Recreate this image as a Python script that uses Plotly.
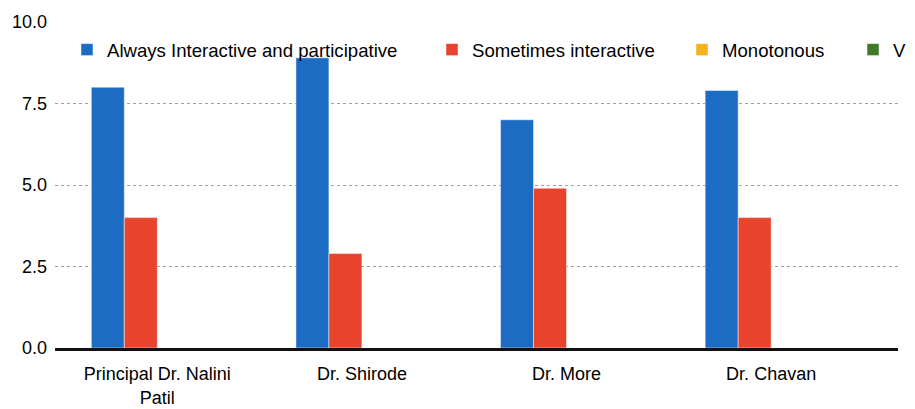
import plotly.graph_objects as go

categories = ["Principal Dr. Nalini<br>Patil", "Dr. Shirode", "Dr. More", "Dr. Chavan"]
series_names = ["Always Interactive and participative", "Sometimes interactive", "Monotonous", "V"]
always_interactive = [8.0, 8.9, 7.0, 7.9]
sometimes_interactive = [4.0, 2.9, 4.9, 4.0]
monotonous = [0, 0, 0, 0]
very_boring = [0, 0, 0, 0]
y_ticks = [0, 2.5, 5.0, 7.5, 10.0]

colors = ["#1c6cc4", "#e8432d", "#f5b21f", "#3e7b27"]
values = [always_interactive, sometimes_interactive, monotonous, very_boring]
legend_ids = ["legend", "legend2", "legend3", "legend4"]
legend_x_px = [59, 424, 674, 845]  # figure px (page has an 8px body margin)

W, H = 907, 401
ML, MR, MT, MB = 47, 17, 14, 61
PW, PH = W - ML - MR, H - MT - MB

fig = go.Figure()
for name, vals, col, lid in zip(series_names, values, colors, legend_ids):
    fig.add_trace(go.Bar(
        x=categories, y=vals, name=name, legend=lid,
        marker=dict(color=col, line=dict(color="rgba(255,255,255,0.6)", width=0.8)),
    ))

font_family = "Liberation Sans, Arial, sans-serif"
legend_common = dict(
    orientation="h", xref="paper", yref="paper",
    yanchor="middle", y=(H - MB - 42) / PH, xanchor="left",
    font=dict(family=font_family, size=18.6, color="#000"),
    bgcolor="rgba(0,0,0,0)", borderwidth=0,
)
layout_legends = {}
for lid, px in zip(legend_ids, legend_x_px):
    layout_legends[lid] = dict(legend_common, x=(px - ML) / PW)

fig.update_layout(
    width=W, height=H,
    margin=dict(l=ML, r=MR, t=MT, b=MB, autoexpand=False),
    paper_bgcolor="white", plot_bgcolor="white",
    barmode="group", bargap=0.355, bargroupgap=0,
    font=dict(family=font_family, size=18, color="#000"),
    showlegend=True,
    **layout_legends,
)
fig.update_xaxes(
    range=[-0.5, 3.62], showgrid=False, showline=True, linecolor="#111", linewidth=2.5,
    ticks="", tickfont=dict(size=18, color="#000"), zeroline=False, automargin=False,
    ticklabelstandoff=8,
)
fig.update_yaxes(
    range=[0, 10], tickvals=y_ticks, tickformat=".1f",
    showgrid=True, gridcolor="#a0a0a0", gridwidth=1, griddash="dot",
    zeroline=False, showline=False, ticks="", automargin=False,
    tickfont=dict(size=18, color="#000"), ticklabelstandoff=7,
)
fig.write_html("out.html")
